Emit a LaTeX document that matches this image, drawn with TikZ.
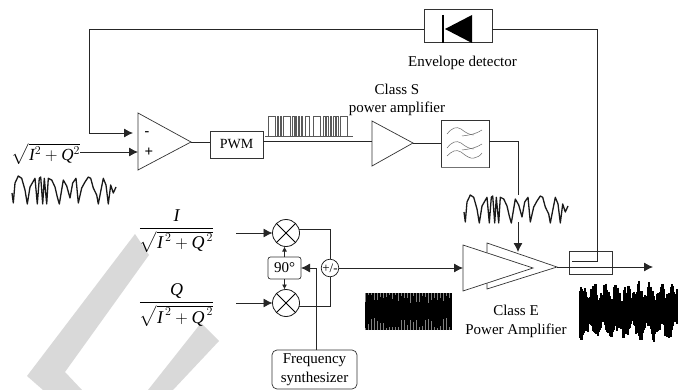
\documentclass[tikz,border=0pt]{standalone}
\usepackage{fontspec}
\usepackage{amsmath}
\setmainfont{Liberation Serif}
\usetikzlibrary{arrows.meta,calc}
\tikzset{
  conn/.style={line width=0.8pt,draw=black!85},
  arr/.style={conn,-{Latex[length=9pt,width=9pt]}},
  sarr/.style={conn,-{Latex[length=5pt,width=5pt]}},
  box/.style={draw=black!80,line width=0.7pt,inner sep=0pt,outer sep=0pt,align=center},
  lbl/.style={inner sep=0pt,align=center,font=\fontsize{15}{18.5}\selectfont},
  eq/.style={inner sep=0pt,font=\fontsize{18}{22}\selectfont},
  tri/.style={draw=black!80,line width=0.7pt,fill=white,line join=miter},
  wave/.style={line width=1.3pt,draw=black!90,line join=round},
  mixer/.style={circle,draw=black!90,line width=0.8pt,minimum size=27pt,inner sep=0pt,outer sep=0pt,fill=white},
}
\newcommand{\sigwave}[2]{%
\draw[wave,shift={(#1,#2)}] plot coordinates {(0,17)(1.3,27)(3,7)(6.3,0)(9.7,2.3)(13,14)(15.3,28)(18,11)(23,2.3)(25.3,28)(27.3,2.3)(28.7,1)(30.7,28)(32.3,2.3)(34.7,28)(36.3,2.3)(39.7,4)(43,11)(45.3,21)(47.3,28)(51.3,4)(54.7,10)(58,22)(60.7,7)(64,2.3)(66.3,27)(69.7,12)(73,6)(76.3,1)(78.7,2.3)(81.3,12)(84.7,19)(86.3,28)(89,14)(91.3,2.3)(94,9)(96.3,28)(98.7,9)(101.3,17)(104,11)};}
\newcommand{\Iv}{\text{\itshape I}}
\newcommand{\Qv}{\text{\itshape Q}}
\begin{document}
\begin{tikzpicture}[x=1pt,y=-1pt]
\useasboundingbox (0,0) rectangle (684,390);
% watermark
\fill[black!15] (135,234) -- (149,255) -- (65,372) -- (82,390) -- (43,390) -- (27,376) -- cycle;
\fill[black!15] (201,323) -- (219,341) -- (173,390) -- (148,390) -- cycle;
% waveforms
\sigwave{12}{176}
\sigwave{464}{195}
% PWM pulse train
\draw[line width=0.6pt,draw=black!65] (265,136) -- (353,136);
\foreach \a/\b in {268.3/275,277.3/278.7,280/281,283.3/290,292.7/294,295.7/296.7,298.3/299.3,301.3/302.7,305/309.3,313.3/320.7,323.3/325,326.7/328.3,330/331.7,333.3/335,336.7/338.3,340.7/347.3}
  \draw[line width=0.6pt,draw=black!65] (\a,136) -- (\a,116) -- (\b,116) -- (\b,136);
% noise blocks
\fill[black] (365,293) rectangle (452,330);
\pgfmathsetseed{7}
\foreach \i in {0,3,...,86}{
  \pgfmathsetmacro{\xx}{365+\i}
  \pgfmathsetmacro{\ha}{1+rnd*9}
  \pgfmathsetmacro{\hb}{1+rnd*11}
  \draw[black!50,line width=0.5pt] (\xx,293) -- (\xx,293+\ha);
  \draw[black!50,line width=0.5pt] (\xx,330) -- (\xx,330-\hb);
}
\pgfmathsetseed{11}
\foreach \i in {0,1,...,97}{
  \pgfmathsetmacro{\xx}{580+\i}
  \pgfmathsetmacro{\env}{14+6*sin(\i*32)+3*sin(\i*75)+rnd*8}
  \pgfmathsetmacro{\enb}{16+6*sin(\i*25+40)+3*sin(\i*60)+rnd*9}
  \draw[black,line width=1.1pt] (\xx,310-\env) -- (\xx,310+\enb);
}
% envelope detector
\node[box,minimum width=68pt,minimum height=33pt] (diode) at (458,25.5) {};
\node[lbl] (envl) at (462.5,63) {Envelope detector};
% comparator
\draw[tri] (138,113) coordinate (opa) -- (138,170) coordinate (opb) -- (191,142) coordinate (opout) -- cycle;
\coordinate (opin1) at (133,133);
\coordinate (opin2) at (138,152);
\node[inner sep=0pt,font=\fontsize{14}{14}\selectfont\bfseries] (minus) at (147,134) {-};
\node[inner sep=0pt,font=\fontsize{15}{15}\selectfont\bfseries] (plus) at (149,152) {+};
\node[box,minimum width=53pt,minimum height=27pt,font=\fontsize{14}{14}\selectfont] (pwm) at (236.5,144.5) {PWM};
% class S
\draw[tri] (372,121) -- (372,166) -- (413,143) coordinate (sout) -- cycle;
\coordinate (sin) at (372,141);
\node[lbl] (sl) at (397,100) {Class S\\power amplifier};
\node[box,minimum width=48pt,minimum height=47pt] (filt) at (465,143.5) {};
\draw[black!55,line width=1pt] (441,167) -- (489,167);
\foreach \d in {0,14}{
  \draw[black!60,line width=0.5pt] (447,134+\d) .. controls (452,128+\d) and (456,126+\d) .. (461,129+\d) .. controls (466,133+\d) and (470,135+\d) .. (474,135+\d);
  \draw[black!60,line width=0.5pt] (462,136+\d) .. controls (470,135+\d) and (476,134+\d) .. (482,130+\d);
}
\draw[black!60,line width=0.5pt] (447,156) .. controls (452,151) and (456,149) .. (461,152) .. controls (466,156) and (470,159) .. (474,158) .. controls (477,157.5) and (480,156) .. (482,153);
\coordinate (wtop) at (518,195);
\coordinate (wbot) at (518,222);
% class E
\draw[tri] (487,243) -- (557,267) coordinate (eout) -- (487,289) -- cycle;
\draw[tri] (463,245) -- (533,268) -- (463,291) -- cycle;
\coordinate (ein) at (463,268);
\coordinate (etop) at (518,252);
\node[lbl] (el) at (516,321.5) {Class E\\Power Amplifier};
% coupler
\node[box,minimum width=43pt,minimum height=23pt] (coupler) at (590.5,262.5) {};
\coordinate (cpl) at (572,261);
\coordinate (cpc) at (597,261);
\coordinate (outp) at (653,267);
% IQ path
\node[eq] (fi) at (176.5,231) {$\dfrac{\Iv}{\sqrt{\Iv^{\,2}+\Qv^{\,2}}}$};
\node[eq] (fq) at (176.5,305) {$\dfrac{\Qv}{\sqrt{\Iv^{\,2}+\Qv^{\,2}}}$};
\node[inner sep=0pt,font=\fontsize{17}{20}\selectfont] (rt) at (46,154) {$\sqrt{\Iv^{2}+\Qv^{2}}$};
\node[mixer] (mt) at (286,233) {};
\node[mixer] (mb) at (286,303) {};
\draw[line width=0.8pt] (mt.45) -- (mt.225) (mt.135) -- (mt.-45);
\draw[line width=0.8pt] (mb.45) -- (mb.225) (mb.135) -- (mb.-45);
\node[box,rounded corners=2.5pt,minimum width=33pt,minimum height=22pt,font=\fontsize{15}{15}\selectfont] (ph) at (284.5,268) {90°};
\node[circle,draw=black!90,line width=0.7pt,minimum size=16pt,inner sep=0pt,outer sep=0pt,fill=white,font=\fontsize{13}{13}\selectfont] (pm) at (330,268) {+/-};
\node[box,rounded corners=5pt,minimum width=85pt,minimum height=39pt,font=\fontsize{15}{19}\selectfont] (fs) at (314.5,369.5) {Frequency\\synthesizer};
\coordinate (iin) at (236,233);
\coordinate (qin) at (236,303);
\coordinate (fb) at (89,29);
\coordinate (cr) at (597,29);
% connectors
\draw[arr] (diode.west |- fb) -- (fb) -- (fb |- opin1) -- (opin1);
\draw[conn] (diode.east |- cr) -- (cr) -- (cpc) -- (cpl);
\draw[arr] (rt.east |- opin2) -- (opin2);
\draw[conn] (opout) -- (opout -| pwm.west);
\draw[conn] (pwm.east |- sin) -- (sin);
\draw[conn] (sout) -- (filt.west |- sout);
\draw[conn] (filt.east |- sin) -- (wtop |- sin) -- (wtop);
\draw[arr] (wbot) -- (etop);
\draw[conn] (eout) -- (coupler.west |- outp);
\draw[arr] (coupler.west |- outp) -- (outp);
\draw[arr] (iin) -- (mt.west);
\draw[arr] (qin) -- (mb.west);
\draw[conn] (mt.15) -| (pm.north);
\draw[conn] (mb.-15) -| (pm.south);
\draw[arr] (pm.east) -- (pm.east -| ein);
\draw[sarr] (ph.north) -- (mt.south -| ph.north);
\draw[sarr] (ph.south) -- (mb.north -| ph.south);
\draw[arr] (fs.north -| 316,0) -- (316,268) -- (ph.east);
% diode symbol
\fill[black] (472,15) coordinate (da) -- (472,43) -- (445,29) coordinate (dk) -- cycle;
\draw[black,line width=2.4pt] (443,15) -- (443,43);
\end{tikzpicture}
\end{document}
